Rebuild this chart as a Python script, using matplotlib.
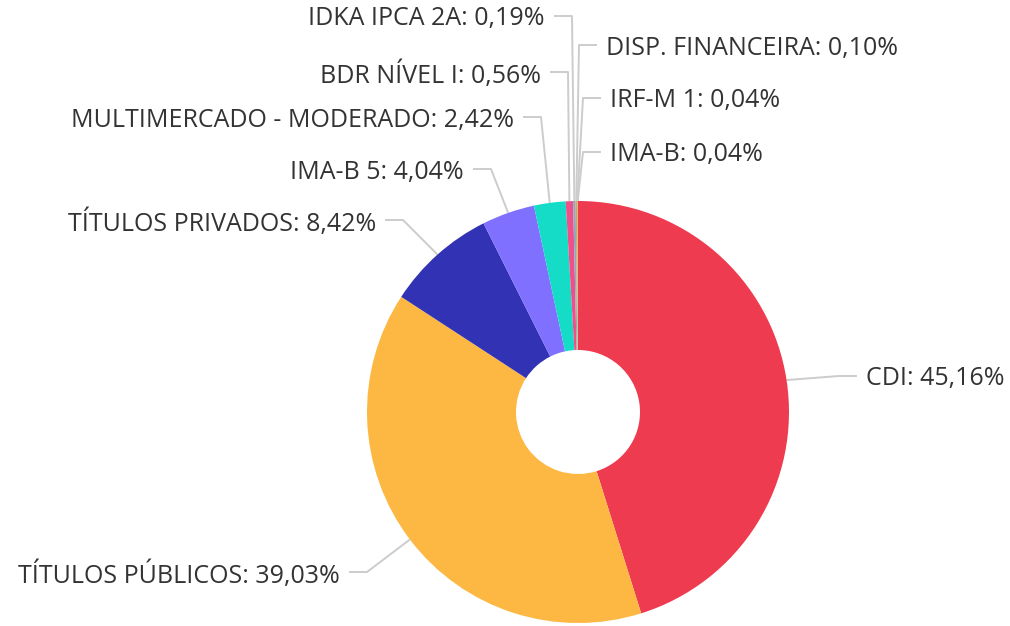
import numpy as np
import matplotlib
matplotlib.use('Agg')
from matplotlib import pyplot as plt

# dados da carteira (% por segmento), sentido horario a partir do topo
labels = ['CDI', 'TÍTULOS PÚBLICOS', 'TÍTULOS PRIVADOS', 'IMA-B 5',
          'MULTIMERCADO - MODERADO', 'BDR NÍVEL I', 'IDKA IPCA 2A',
          'DISP. FINANCEIRA', 'IRF-M 1', 'IMA-B']
values = [45.16, 39.03, 8.42, 4.04, 2.42, 0.56, 0.19, 0.10, 0.04, 0.04]
colors = ['#EE3B50', '#FDB843', '#3232B4', '#8070FF', '#14DCC6',
          '#F0508A', '#8FA6C0', '#F59A3B', '#5BC45B', '#B0B0B0']

# posicao dos rotulos (pixels, y para cima) e alinhamento
label_pos = [(866, 626 - 376, 'left'), (340, 626 - 572, 'right'),
             (376, 626 - 220, 'right'), (464, 626 - 169, 'right'),
             (514, 626 - 117, 'right'), (541, 626 - 72, 'right'),
             (545, 626 - 16, 'right'), (606, 626 - 45, 'left'),
             (610, 626 - 98, 'left'), (610, 626 - 152, 'left')]

cx, cy, r, r_in = 578, 626 - 412, 211, 62

fig = plt.figure(figsize=(10.1, 6.26), dpi=100)
ax = fig.add_axes([0, 0, 1, 1])
ax.axis('off')

wedges, _ = ax.pie(values, colors=colors, startangle=90, counterclock=False,
                   center=(cx, cy), radius=r,
                   wedgeprops=dict(width=r - r_in, edgecolor='none'))
ax.set_xlim(0, 1010)
ax.set_ylim(0, 626)
ax.set_aspect('equal')

line_color = '#cccccc'
for w, lab, v, (tx, ty, ha) in zip(wedges, labels, values, label_pos):
    ang = np.deg2rad((w.theta1 + w.theta2) / 2)
    px, py = cx + r * np.cos(ang), cy + r * np.sin(ang)
    s = 1 if ha == 'left' else -1
    ex, end = tx - s * 27, tx - s * 9
    ax.plot([px, ex, end], [py, ty, ty], color=line_color, lw=1.4,
            solid_capstyle='butt', zorder=0)
    pct = f'{v:.2f}'.replace('.', ',')
    ax.text(tx, ty - 3, f'{lab}: {pct}%', ha=ha, va='center', fontsize=18,
            family='Open Sans', color='#333333')

plt.savefig('out.png', dpi=100)
